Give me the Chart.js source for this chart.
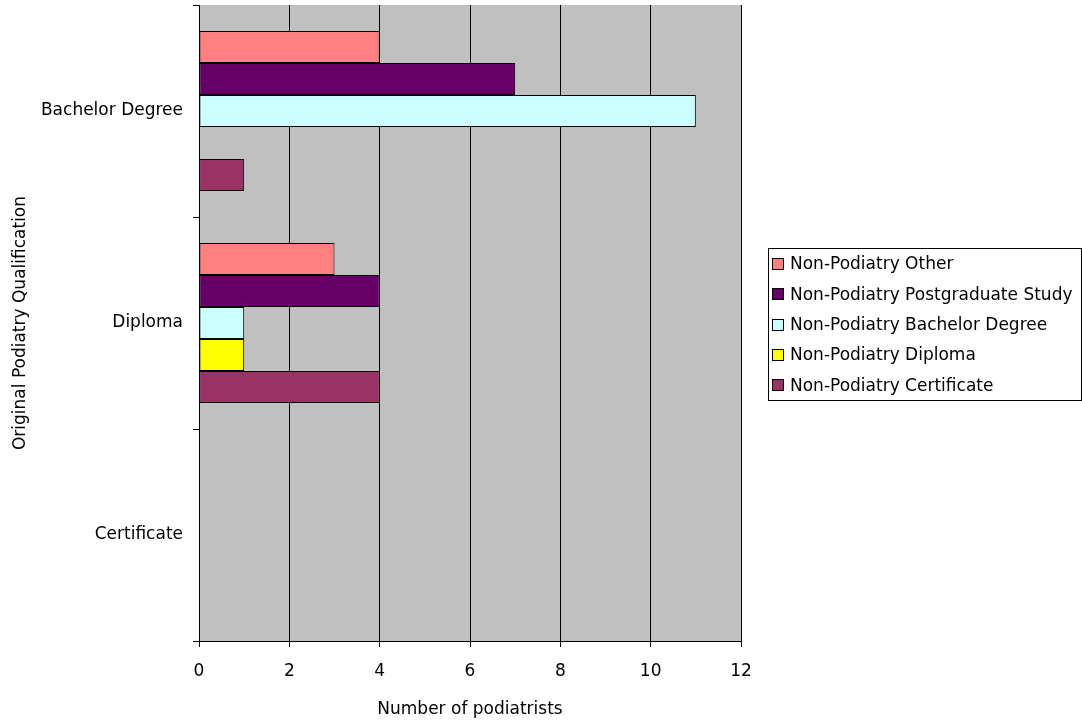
<!DOCTYPE html>
<html><head><meta charset="utf-8">
<script src="https://cdn.jsdelivr.net/npm/chart.js@4/dist/chart.umd.min.js"></script>
<style>html,body{margin:0;padding:0;background:#fff}#wrap{width:1082px;height:720px}</style>
</head><body><div id="wrap"><canvas id="c" width="1082" height="720"></canvas></div>
<script>
const categories = ["Bachelor Degree", "Diploma", "Certificate"];
const seriesNames = ["Non-Podiatry Other", "Non-Podiatry Postgraduate Study", "Non-Podiatry Bachelor Degree", "Non-Podiatry Diploma", "Non-Podiatry Certificate"];
const otherVals = [4, 3, 0];
const postgradVals = [7, 4, 0];
const bachelorVals = [11, 1, 0];
const diplomaVals = [0, 1, 0];
const certificateVals = [1, 4, 0];
const xTicks = [0, 2, 4, 6, 8, 10, 12];
const colors = ["#FF8080", "#660066", "#CCFFFF", "#FFFF00", "#993366"];

const FONT = "'DejaVu Sans', sans-serif";
const FS = 17;

const bgPlugin = {
  id: 'bg',
  beforeDraw(chart) {
    const {ctx, chartArea: a} = chart;
    ctx.save();
    ctx.fillStyle = '#C0C0C0';
    ctx.fillRect(a.left, a.top, a.right - a.left, a.bottom - a.top);
    ctx.restore();
  }
};
const legendPlugin = {
  id: 'customLegend',
  afterDraw(chart) {
    const ctx = chart.ctx;
    ctx.save();
    const x0 = 768.5, y0 = 248.5, w = 313, h = 152;
    ctx.strokeStyle = '#000'; ctx.lineWidth = 1;
    ctx.strokeRect(x0, y0, w, h);
    ctx.font = FS + "px " + FONT;
    ctx.textBaseline = 'middle';
    chart.data.datasets.forEach((ds, i) => {
      const cy = 264 + i * 30.3;
      ctx.fillStyle = ds.backgroundColor;
      ctx.fillRect(772.5, Math.round(cy - 6) + 0.5, 11, 11);
      ctx.strokeStyle = '#000';
      ctx.strokeRect(772.5, Math.round(cy - 6) + 0.5, 11, 11);
      ctx.fillStyle = '#000';
      ctx.fillText(ds.label, 790, cy + 1);
    });
    ctx.restore();
  }
};

const vals = [otherVals, postgradVals, bachelorVals, diplomaVals, certificateVals];
new Chart(document.getElementById('c'), {
  type: 'bar',
  data: {
    labels: categories,
    datasets: seriesNames.map((n, i) => ({
      label: n, data: vals[i], backgroundColor: colors[i],
      borderColor: '#000', borderWidth: 1, borderSkipped: false,
      categoryPercentage: 0.755, barPercentage: 1.0
    }))
  },
  options: {
    indexAxis: 'y',
    responsive: false,
    animation: false,
    layout: { padding: { top: 5, right: 341, left: 0, bottom: 0 } },
    plugins: { legend: { display: false }, tooltip: { enabled: false } },
    scales: {
      x: {
        min: 0, max: 12,
        afterBuildTicks(scale) { scale.ticks = xTicks.map(v => ({value: v})); },
        afterFit(scale) { scale.height = 79; },
        grid: { color: '#000', lineWidth: 1, tickLength: 6, drawTicks: true, tickColor: '#000' },
        border: { color: '#000', width: 1 },
        ticks: { color: '#000', font: { family: FONT, size: FS }, padding: 14, maxRotation: 0 },
        title: { display: true, text: 'Number of podiatrists', color: '#000', font: { family: FONT, size: FS }, padding: { top: 7, bottom: 0 } }
      },
      y: {
        afterFit(scale) { scale.width = 199; scale.paddingTop = 0; scale.paddingBottom = 0; },
        grid: { offset: true, drawOnChartArea: false, drawTicks: true, tickLength: 6, color: '#000' },
        border: { color: '#000', width: 1 },
        ticks: { color: '#000', font: { family: FONT, size: FS }, padding: 10 },
        title: { display: true, text: 'Original Podiatry Qualification', color: '#000', font: { family: FONT, size: FS }, padding: { top: 10, bottom: 0 } }
      }
    }
  },
  plugins: [bgPlugin, legendPlugin]
});
</script>
</body></html>
